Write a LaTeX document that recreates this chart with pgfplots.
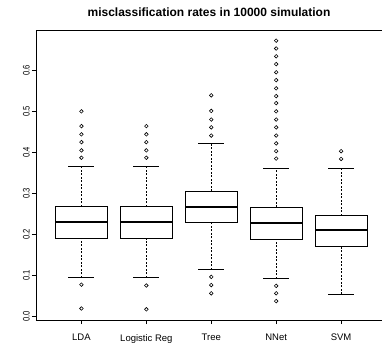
\documentclass[border=0pt]{standalone}
\usepackage{fontspec}
\setmainfont{Liberation Sans}
\usepackage{pgfplots}
\pgfplotsset{compat=1.18}
% #1 position, #2 lower whisker, #3 lower quartile, #4 median, #5 upper quartile, #6 upper whisker
\newcommand{\rbox}[6]{%
  \addplot[black, line width=0.8pt] coordinates {(#1-0.4,#3) (#1+0.4,#3) (#1+0.4,#5) (#1-0.4,#5) (#1-0.4,#3)};
  \addplot[black, line width=2pt] coordinates {(#1-0.4,#4) (#1+0.4,#4)};
  \addplot[black, line width=0.6pt, dash pattern=on 2pt off 1.5pt] coordinates {(#1,#5) (#1,#6)};
  \addplot[black, line width=0.6pt, dash pattern=on 2pt off 1.5pt] coordinates {(#1,#2) (#1,#3)};
  \addplot[black, line width=0.8pt] coordinates {(#1-0.2,#6) (#1+0.2,#6)};
  \addplot[black, line width=0.8pt] coordinates {(#1-0.2,#2) (#1+0.2,#2)};
}
\pgfplotsset{outl/.style={black, only marks, mark=o, mark size=1.8pt, mark options={solid, line width=0.6pt}}}
\begin{document}
\begin{tikzpicture}
\begin{axis}[
  scale only axis, width=346pt, height=290pt,
  xmin=0.3, xmax=5.63, ymin=-0.008, ymax=0.698,
  axis y line*=left,
  axis line style={line width=0.8pt},
  xtick={1,2,3,4,5},
  xticklabels={LDA,Logistic Reg,Tree,NNet,SVM},
  xtick pos=bottom, ytick pos=left,
  ytick={0,0.1,0.2,0.3,0.4,0.5,0.6},
  tick align=outside, major tick length=4pt,
  tick style={black, line width=0.6pt},
  /pgf/number format/assume math mode=true,
  yticklabel style={/pgf/number format/fixed, /pgf/number format/precision=1, /pgf/number format/fixed zerofill, rotate=90, xscale=0.8, anchor=south, inner sep=0pt},
  yticklabel shift=2pt,
  xticklabel style={anchor=north, inner sep=0pt},
  xticklabel shift=10pt,
  ticklabel style={font=\fontsize{9.5}{11}\selectfont},
  title={misclassification rates in 10000 simulation},
  title style={font=\fontsize{12}{14}\selectfont\bfseries, at={(0.5,1)}, anchor=base, yshift=7pt},
]
% LDA
\rbox{1}{0.095}{0.191}{0.230}{0.268}{0.365}
\addplot[outl] coordinates {(1,0.020) (1,0.078) (1,0.387) (1,0.405) (1,0.425) (1,0.444) (1,0.464) (1,0.500)};
% Logistic Reg
\rbox{2}{0.095}{0.190}{0.230}{0.268}{0.365}
\addplot[outl] coordinates {(2,0.018) (2,0.076) (2,0.387) (2,0.405) (2,0.425) (2,0.444) (2,0.464)};
% Tree
\rbox{3}{0.114}{0.229}{0.267}{0.306}{0.421}
\addplot[outl] coordinates {(3,0.057) (3,0.077) (3,0.097) (3,0.441) (3,0.461) (3,0.480) (3,0.501) (3,0.539)};
% NNet
\rbox{4}{0.093}{0.189}{0.229}{0.267}{0.362}
\addplot[outl] coordinates {(4,0.038) (4,0.057) (4,0.075) (4,0.385) (4,0.403) (4,0.422) (4,0.441) (4,0.461) (4,0.480) (4,0.500) (4,0.520) (4,0.537) (4,0.556) (4,0.576) (4,0.595) (4,0.615) (4,0.634) (4,0.653) (4,0.672)};
% SVM
\rbox{5}{0.055}{0.171}{0.210}{0.246}{0.362}
\addplot[outl] coordinates {(5,0.384) (5,0.403)};
\end{axis}
\pgfresetboundingbox
\path[use as bounding box] ([shift={(-36pt,-25pt)}]current axis.south west) rectangle ([shift={(0pt,30pt)}]current axis.north east);
\end{tikzpicture}
\end{document}
